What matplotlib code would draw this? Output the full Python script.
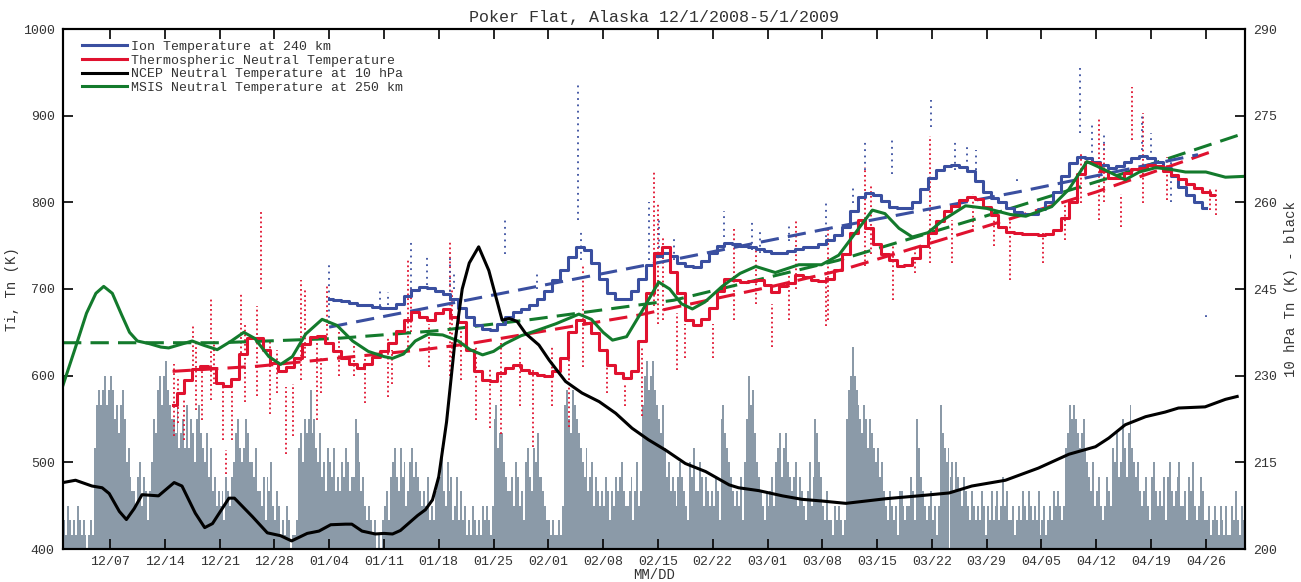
import matplotlib
matplotlib.use('Agg')
import matplotlib.pyplot as plt
import numpy as np

plt.rcParams['font.family'] = ['Liberation Mono', 'DejaVu Sans Mono']

# days counted from 12/1/2008 (day 0) to 5/1/2009 (day 151)
tick_days = [6, 13, 20, 27, 34, 41, 48, 55, 62, 69, 76, 83, 90, 97, 104, 111, 118, 125, 132, 139, 146]
tick_labels = ['12/07', '12/14', '12/21', '12/28', '01/04', '01/11', '01/18', '01/25', '02/01', '02/08',
               '02/15', '02/22', '03/01', '03/08', '03/15', '03/22', '03/29', '04/05', '04/12', '04/19', '04/26']

# Kp index in thirds, four values per day
kp_thirds = [
    2, 1, 3, 2,  1, 2, 1, 3,  2, 1, 2, 1,  0, 1, 2, 1,  7, 10, 11, 10,  11, 12, 10, 11,  12, 11, 9, 10,
    8, 10, 11, 9,  6, 7, 5, 4,  4, 3, 5, 6,  3, 5, 4, 2,  4, 6, 9, 8,  11, 12, 10, 12,  13, 11, 10, 9,
    9, 8, 10, 7,  8, 9, 7, 10,  7, 9, 8, 6,  9, 10, 8, 7,  6, 8, 5, 7,  4, 5, 3, 4,  3, 4, 2, 5,
    4, 3, 5, 6,  8, 9, 7, 6,  7, 9, 8, 6,  6, 5, 7, 4,  4, 3, 5, 2,  5, 4, 6, 3,  2, 4, 3, 1,
    2, 1, 3, 2,  0, 1, 1, 2,  7, 8, 6, 9,  8, 9, 11, 8,  9, 7, 6, 8,  5, 6, 4, 7,  6, 5, 7, 4,
    5, 4, 6, 5,  7, 6, 4, 5,  5, 9, 8, 6,  4, 5, 3, 2,  3, 2, 1, 2,  0, 1, 0, 2,  3, 4, 2, 5,
    6, 7, 5, 4,  7, 5, 6, 3,  4, 6, 7, 5,  6, 5, 4, 3,  4, 3, 5, 2,  3, 2, 4, 5,  5, 7, 4, 3,
    6, 4, 5, 2,  3, 5, 2, 4,  2, 3, 1, 2,  1, 3, 2, 1,  2, 1, 3, 2,  3, 2, 1, 3,  9, 10, 7, 8,
    8, 6, 5, 4,  4, 5, 3, 6,  5, 3, 4, 2,  6, 7, 5, 4,  7, 6, 8, 5,  5, 4, 3, 2,  2, 1, 2, 1,
    1, 2, 1, 3,  10, 11, 9, 8,  11, 10, 9, 8,  7, 6, 5, 7,  4, 5, 6, 3,  5, 4, 3, 4,  3, 5, 4, 2,
    4, 3, 5, 4,  5, 6, 4, 3,  3, 4, 5, 2,  4, 6, 3, 4,  10, 12, 13, 11,  12, 13, 11, 10,  9, 8, 10, 7,
    5, 6, 4, 5,  4, 3, 5, 6,  5, 4, 3, 2,  6, 5, 7, 4,  4, 6, 5, 3,  5, 4, 3, 4,  3, 5, 4, 2,
    9, 10, 8, 7,  6, 5, 4, 3,  4, 3, 5, 2,  6, 9, 12, 10,  11, 8, 6, 5,  4, 3, 2, 4,  3, 4, 5, 3,
    6, 7, 8, 5,  7, 8, 6, 5,  4, 5, 6, 3,  5, 4, 3, 2,  4, 6, 3, 5,  9, 8, 6, 5,  3, 2, 4, 2,
    2, 1, 3, 2,  3, 2, 1, 2,  9, 11, 12, 14,  12, 11, 10, 9,  8, 10, 9, 7,  9, 8, 7, 6,  7, 5, 6, 4,
    3, 2, 4, 3,  2, 3, 1, 4,  4, 3, 2, 3,  3, 5, 4, 2,  9, 7, 5, 4,  3, 2, 3, 4,  2, 3, 1, 3,
    10, 8, 7, 6,  7, 5, 6, 4,  6, 5, 4, 3,  5, 4, 3, 2,  4, 3, 2, 3,  2, 4, 3, 1,  3, 2, 4, 2,
    3, 4, 2, 3,  5, 3, 4, 2,  2, 3, 1, 2,  3, 2, 4, 3,  2, 4, 3, 2,  3, 2, 4, 1,  2, 3, 1, 2,
    3, 2, 4, 3,  4, 3, 2, 3,  7, 8, 10, 9,  10, 9, 8, 7,  8, 9, 7, 6,  5, 4, 6, 3,  4, 5, 3, 2,
    3, 5, 4, 3,  7, 6, 8, 5,  6, 9, 7, 5,  8, 10, 7, 6,  5, 6, 4, 3,  4, 5, 3, 2,  5, 6, 4, 3,
    4, 3, 5, 2,  5, 6, 4, 3,  4, 5, 6, 3,  3, 4, 2, 5,  4, 6, 3, 2,  3, 5, 4, 2,  2, 3, 1, 2,
    3, 2, 1, 3,  2, 1, 3, 1,  1, 3, 2, 4,  2, 1, 3, 2,
]

# thermospheric neutral temperature (daily, from day 14)
tn_start = 14
tn_vals = [566, 580, 595, 608, 611, 609, 592, 588, 596, 625,
           643, 644, 630, 615, 605, 610, 620, 637, 645, 646,
           638, 628, 620, 613, 609, 613, 622, 628, 638, 652,
           664, 673, 668, 664, 672, 677, 668, 662, 630, 605,
           595, 594, 603, 609, 612, 607, 603, 601, 600, 605,
           620, 650, 664, 661, 649, 630, 612, 603, 597, 605,
           640, 695, 742, 748, 720, 695, 664, 659, 665, 678,
           698, 711, 710, 708, 709, 710, 705, 697, 703, 707,
           716, 714, 710, 709, 712, 722, 740, 765, 780, 770,
           752, 740, 734, 727, 728, 736, 750, 765, 778, 790,
           796, 803, 806, 804, 795, 785, 772, 766, 765, 764,
           763, 762, 763, 768, 782, 800, 833, 846, 845, 836,
           828, 828, 834, 838, 840, 843, 842, 836, 832, 827,
           821, 816, 812, 809]

# ion temperature at 240 km (daily, from day 34)
ti_start = 34
ti_vals = [688, 687, 686, 684, 682, 681, 679, 678, 678, 683,
           692, 699, 702, 701, 698, 694, 688, 678, 668, 658,
           654, 653, 660, 668, 673, 677, 681, 688, 698, 710,
           722, 737, 748, 745, 730, 712, 695, 688, 688, 698,
           712, 728, 738, 742, 738, 730, 726, 725, 732, 742,
           750, 753, 752, 750, 748, 746, 744, 742, 742, 744,
           746, 748, 748, 752, 757, 762, 772, 790, 806, 811,
           809, 801, 795, 793, 793, 800, 815, 828, 837, 842,
           843, 841, 836, 825, 812, 805, 800, 794, 789, 787,
           787, 792, 800, 812, 830, 845, 852, 851, 847, 843,
           840, 842, 847, 851, 853, 851, 846, 840, 830, 818,
           808, 800, 793]

# MSIS neutral temperature at 250 km
msis_days = [0, 1.5, 3, 4.2, 5.2, 6.3, 7.5, 8.5, 9.5, 11, 12.5, 13.5, 15, 16.5, 18, 19.7, 21.5, 23.1,
             24.5, 26.3, 27.8, 29.3, 31, 33.1, 35, 37, 39, 41, 42.1, 43.5, 45, 46.7, 48.5, 50.5, 52,
             53.6, 55, 56.5, 58.5, 60.8, 63, 65.9, 67.5, 69, 70.2, 72, 74, 76.1, 77.5, 79, 80.4, 82,
             84.2, 86.5, 88.5, 91, 94, 96.9, 99.1, 101.5, 103.4, 105, 106.8, 108.5, 110.5, 112.5,
             115.3, 118, 121, 123, 126.3, 128.5, 130.8, 132.5, 135.7, 137.5, 139.6, 141.5, 143.4,
             146, 148.5, 151]
msis_vals = [589, 630, 672, 695, 703, 695, 670, 650, 640, 637, 633, 632, 636, 640, 635, 630, 640, 650,
             643, 622, 613, 622, 648, 665, 658, 640, 628, 622, 620, 625, 640, 648, 647, 640, 630,
             624, 628, 637, 646, 653, 660, 671, 665, 650, 641, 645, 675, 708, 700, 683, 677, 685,
             703, 718, 726, 719, 728, 728, 739, 768, 791, 787, 770, 760, 765, 780,
             796, 793, 786, 784, 795, 815, 847, 840, 826, 835, 840, 838, 835,
             835, 829, 830]

# NCEP neutral temperature at 10 hPa (right axis)
ncep_days = [0, 1.6, 3.7, 5, 5.9, 7.2, 8.1, 9.1, 10.1, 12.2, 14.2, 15.2, 16.9, 18.1, 19.1, 21.2, 21.9,
             24.2, 26.1, 27.8, 29.2, 31.2, 32.7, 34.2, 36.1, 36.9, 38.2, 39.9, 41, 42.1, 43.1, 45.3,
             46.3, 47.2, 48, 49, 50, 51, 51.9, 53.1, 54.4, 56.1, 57, 58, 59.1, 60.8, 62.1, 64.2,
             66.3, 68.5, 70.6, 72.7, 74.8, 77, 79.5, 82.1, 85.1, 86.3, 88.9, 91.9, 94.4, 97, 100,
             105.1, 109.3, 113.2, 116.1, 120.4, 124.6, 128.5, 131.9, 133.6, 135.7, 138.3, 140.8,
             142.5, 145.9, 148.5, 150]
ncep_vals = [211.5, 211.9, 210.9, 210.6, 209.6, 206.5, 205.1, 207.0, 209.4, 209.2, 211.5, 210.9, 206.2,
             203.7, 204.4, 208.8, 208.8, 205.6, 202.8, 202.3, 201.4, 202.7, 203.1, 204.2, 204.3,
             204.3, 203.1, 202.6, 202.7, 202.6, 203.2, 205.8, 206.8, 208.5, 212.5, 222.0, 235.0,
             245.0, 249.5, 252.3, 248.2, 239.6, 239.9, 239.4, 237.3, 235.3, 232.7, 229.0,
             227.0, 225.5, 223.5, 220.9, 218.9, 217.1, 214.8, 213.4, 211.1, 210.6, 210.1, 209.2,
             208.6, 208.3, 207.9, 208.7, 209.2, 209.7, 210.9, 211.9, 214.0, 216.4, 217.7, 219.2,
             221.5, 222.9, 223.7, 224.4, 224.6, 225.9, 226.4]

# trend fits
ti_fit_days = [34, 73.6, 99, 122, 145]
ti_fit_vals = [656, 726, 772, 812, 855]
tn_fit_days = [14, 25, 46, 52, 73.6, 90.6, 99.5, 117.8, 132, 147.2]
tn_fit_vals = [605, 611, 630, 637, 670, 703, 722, 772, 812, 860]
msis_fit_days = [0, 20, 35, 48, 60, 78, 99, 120, 135, 151]
msis_fit_vals = [638, 638, 643, 652, 665, 687, 733, 790, 832, 880]

# raw measurement streaks: day, lowest, highest value
tn_raw = [(14.2, 530, 614), (14.7, 545, 600), (15.5, 526, 572), (16.6, 595, 660), (17.0, 560, 640),
          (17.8, 549, 610), (18.9, 572, 691), (19.3, 590, 640), (20.4, 526, 587), (20.8, 487, 514),
          (21.6, 526, 583), (22.7, 626, 695), (23.3, 570, 660), (24.8, 576, 680), (25.3, 700, 790),
          (26.5, 556, 641), (27.3, 580, 630), (28.5, 510, 587), (29.4, 530, 590), (30.4, 595, 710),
          (30.9, 620, 700), (32.5, 549, 641), (33.0, 580, 620), (33.7, 641, 703), (35.2, 600, 650),
          (37.2, 600, 640), (38.6, 568, 622), (41.5, 575, 645), (42.0, 590, 630), (44.1, 633, 733),
          (44.5, 650, 700), (46.7, 610, 660), (49.4, 600, 757), (49.7, 620, 700), (50.8, 595, 653),
          (52.7, 549, 633), (54.6, 540, 610), (56.0, 533, 641), (58.4, 565, 633), (60.0, 518, 606),
          (62.5, 565, 633), (64.6, 541, 633), (66.4, 610, 729), (69.5, 580, 633), (71.8, 565, 590),
          (74.0, 553, 633), (75.5, 680, 836), (76.0, 660, 800), (76.6, 664, 760), (78.5, 606, 672),
          (79.5, 620, 660), (83.0, 620, 660), (85.7, 664, 772), (88.5, 683, 749), (90.6, 633, 683),
          (92.7, 664, 718), (93.6, 700, 780), (97.5, 657, 722), (97.7, 664, 772), (102.5, 726, 841),
          (103.2, 740, 820), (106.0, 687, 750), (108.9, 718, 750), (110.8, 730, 876), (113.6, 730, 780),
          (116.3, 772, 810), (118.9, 750, 780), (121.0, 710, 780), (125.2, 730, 765), (128.0, 756, 800),
          (130.0, 799, 857), (132.3, 780, 899), (133.0, 800, 870), (135.1, 772, 810), (136.6, 872, 933),
          (138.0, 799, 903), (141.0, 803, 852), (146.5, 791, 818), (147.3, 785, 815)]
ti_raw = [(34.0, 660, 729), (40.5, 680, 699), (41.5, 682, 697), (44.5, 700, 756), (46.5, 705, 740),
          (49.5, 690, 740), (50.0, 700, 720), (56.5, 740, 780), (60.5, 700, 720), (65.8, 780, 936),
          (66.2, 733, 768), (74.8, 733, 800), (76.2, 740, 780), (78.0, 733, 760), (84.5, 760, 790),
          (88.0, 745, 780), (89.0, 742, 770), (92.7, 755, 775), (97.5, 760, 800), (100.9, 799, 818),
          (102.4, 837, 872), (105.9, 833, 872), (110.9, 887, 918), (114.0, 837, 872), (115.5, 840, 865),
          (116.6, 837, 860), (121.9, 825, 830), (129.9, 880, 957), (131.5, 850, 890), (133.0, 860, 880),
          (137.8, 860, 900), (139.0, 850, 880), (141.5, 800, 850), (146.0, 668, 672)]

BLUE = '#3a4fa0'
RED = '#e0122f'
GREEN = '#137a2c'
GRAY = '#8b9aa8'
TXT = '#333333'

fig = plt.figure(figsize=(13.01, 5.82), dpi=100)
rect = [63 / 1301, 33 / 582, 1182 / 1301, 520 / 582]
ax_kp = fig.add_axes(rect)
ax = fig.add_axes(rect)
ax_r = ax.twinx()
ax_kp.set_zorder(0)
ax.set_zorder(1)
ax_r.set_zorder(2)
ax.patch.set_visible(False)
ax_r.patch.set_visible(False)

# Kp bars
kp = np.array(kp_thirds) / 3.0
kp_t = np.arange(len(kp)) * 0.25
ax_kp.bar(kp_t, kp, width=0.25, align='edge', color=GRAY, linewidth=0)
ax_kp.set_xlim(0, 151)
ax_kp.set_ylim(0, 12)
ax_kp.axis('off')

# raw streaks
for d, lo, hi in tn_raw:
    ax.vlines(d, lo, hi, colors=RED, linestyles=(0, (1, 1.6)), linewidth=1.3)
for d, lo, hi in ti_raw:
    ax.vlines(d, lo, hi, colors=BLUE, linestyles=(0, (1, 2.5)), linewidth=1.3)

# trend lines
ax.plot(msis_fit_days, msis_fit_vals, color=GREEN, lw=2.2, ls=(0, (6, 3)))
ax.plot(tn_fit_days, tn_fit_vals, color=RED, lw=2.2, ls=(0, (6, 3)))
ax.plot(ti_fit_days, ti_fit_vals, color=BLUE, lw=2.2, ls=(0, (6, 3)))

tn_days = np.arange(tn_start, tn_start + len(tn_vals))
ti_days = np.arange(ti_start, ti_start + len(ti_vals))
l1, = ax.plot(ti_days, ti_vals, color=BLUE, lw=2.2, drawstyle='steps-mid')
l2, = ax.plot(tn_days, tn_vals, color=RED, lw=2.2, drawstyle='steps-mid')
l4, = ax.plot(msis_days, msis_vals, color=GREEN, lw=2.2)

l3, = ax_r.plot(ncep_days, ncep_vals, color='black', lw=2.2)

ax.set_xlim(0, 151)
ax.set_ylim(400, 1000)
ax_r.set_ylim(200, 290)
ax.set_yticks(range(400, 1001, 100))
ax_r.set_yticks(range(200, 291, 15))
ax.set_xticks(tick_days)
ax.set_xticklabels(tick_labels)

ax.tick_params(axis='both', direction='in', length=7, width=1.2, labelsize=9.5, labelcolor=TXT,
               top=True, pad=6)
ax.tick_params(axis='x', pad=5)
ax_r.tick_params(axis='y', direction='in', length=7, width=1.2, labelsize=9.5, labelcolor=TXT, pad=6)
for a in (ax, ax_r):
    for s in a.spines.values():
        s.set_linewidth(1.5)

ax.set_xlabel('MM/DD', fontsize=10, color=TXT)
ax.xaxis.set_label_coords(0.5, -0.036)
ax.set_ylabel('Ti, Tn (K)', fontsize=10, color=TXT)
ax.yaxis.set_label_coords(-0.037, 0.5)
ax_r.set_ylabel('10 hPa Tn (K) - black', fontsize=10, color=TXT)
ax_r.yaxis.set_label_coords(1.033, 0.5)
ax.set_title('Poker Flat, Alaska 12/1/2008-5/1/2009', fontsize=12, color=TXT, pad=5)

leg = ax.legend([l1, l2, l3, l4],
                ['Ion Temperature at 240 km', 'Thermospheric Neutral Temperature',
                 'NCEP Neutral Temperature at 10 hPa', 'MSIS Neutral Temperature at 250 km'],
                loc='upper left', bbox_to_anchor=(0.008, 0.995), frameon=False, fontsize=9.5,
                handlelength=3.4, handletextpad=0.3, labelspacing=0.1, borderaxespad=0.3)
for t in leg.get_texts():
    t.set_color(TXT)

fig.savefig('out.png', dpi=100)
